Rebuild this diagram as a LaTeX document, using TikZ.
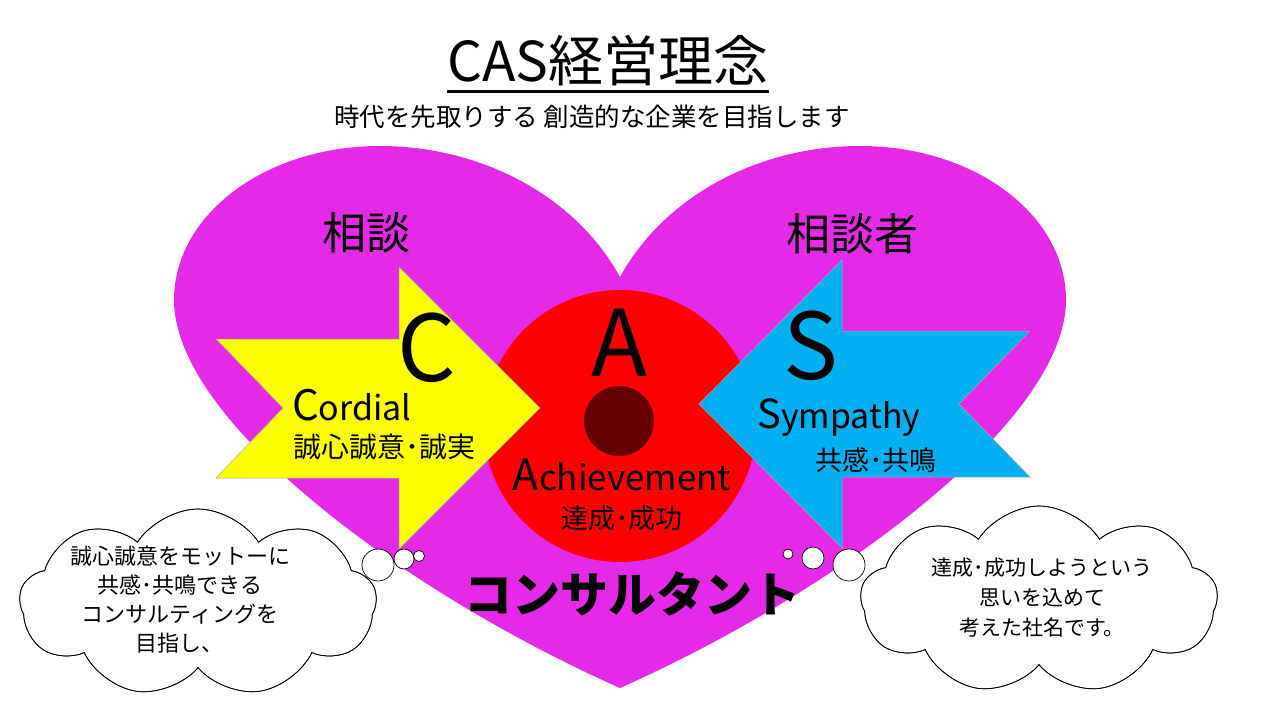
\documentclass[tikz,border=0pt]{standalone}
\usepackage{fontspec}
\setmainfont{Noto Sans CJK JP}
\usetikzlibrary{shapes.symbols}
\definecolor{heartc}{RGB}{228,42,230}
\definecolor{arrowy}{RGB}{255,255,0}
\definecolor{arrowb}{RGB}{0,176,240}
\definecolor{circr}{RGB}{255,0,0}
\definecolor{darkr}{RGB}{102,0,0}
\newcommand{\fs}[1]{\fontsize{#1}{#1}\selectfont}
\begin{document}
\begin{tikzpicture}[x=1pt,y=-1pt,
  txt/.style={inner sep=0pt, text=black},
  cloudbox/.style={cloud, cloud puffs=9, cloud puff arc=115, cloud ignores aspect, minimum width=357pt, minimum height=188pt, draw=black, line width=0.7pt},
  bubble/.style={circle, draw=black, fill=white, line width=0.7pt, inner sep=0pt},
  arrowline/.style={draw=gray!70, line width=0.5pt}
]
\useasboundingbox (0,0) rectangle (1280,720);
\fill[white] (0,0) rectangle (1280,720);

% heart
\fill[heartc] (620,688) .. controls (400,590) and (174,420) .. (174,300)
  .. controls (174,215) and (265,146) .. (380,146)
  .. controls (480,146) and (575,195) .. (620,277)
  .. controls (665,195) and (760,146) .. (860,146)
  .. controls (975,146) and (1066,215) .. (1066,300)
  .. controls (1066,420) and (840,590) .. (620,688) -- cycle;

% centre circle
\node[circle, fill=circr, minimum size=272pt, inner sep=0pt] (redc) at (620,426) {};
\node[circle, fill=darkr, minimum size=70pt, inner sep=0pt] (dot) at (619,421) {};

% arrows
\filldraw[arrowline, fill=arrowy] (216,339) -- (399,339) -- (399,267) -- (540,408)
  -- (399,549) -- (399,478) -- (216,478) -- (283,408) -- cycle;
\filldraw[arrowline, fill=arrowb] (699,404) -- (842,260) -- (842,331) -- (1030,331)
  -- (959,404) -- (1030,477) -- (842,477) -- (842,548) -- cycle;

% clouds
\node[cloudbox, fill=white] (lcloud) at (198,603) {};
\node[cloudbox, fill=white] (rcloud) at (1039,600) {};
\node[bubble, minimum size=32pt] (lb1) at (378,565) {};
\node[bubble, minimum size=20pt] (lb2) at (404,559) {};
\node[bubble, minimum size=11pt] (lb3) at (419,556) {};
\node[bubble, minimum size=10pt] (rb1) at (788,554) {};
\node[bubble, minimum size=22pt] (rb2) at (813,558) {};
\node[bubble, minimum size=32pt] (rb3) at (849,565) {};
\node[cloudbox] (lcloudo) at (198,603) {};
\node[cloudbox] (rcloudo) at (1039,600) {};

% title
\node[txt, anchor=base] (title) at (608,81) {\fs{55}CAS経営理念};
\draw[line width=3pt] ([yshift=-10pt]title.base west) -- ([yshift=-10pt]title.base east);
\node[txt, anchor=base] (sub) at (592,126) {\fs{25.5}時代を先取りする 創造的な企業を目指します};

\node[txt] (soudan) at (366,233) {\fs{44}相談};
\node[txt] (soudansha) at (852,234) {\fs{44}相談者};

% big letters
\node[txt] (bigC) at (427,348) {\fs{92}C};
\node[txt] (bigA) at (619,343) {\fs{92}A};
\node[txt] (bigS) at (811,346) {\fs{92}S};

% words
\node[txt, anchor=base west] (cordial) at (292,420) {{\fs{42}C}{\fs{34}ordial}};
\node[txt] (seijitsu) at (384,447) {\fs{28}誠心誠意･誠実};
\node[txt, anchor=base] (achieve) at (622,490) {{\fs{43}A}{\fs{35}chievement}};
\node[txt] (seikou) at (622,518) {\fs{27}達成･成功};
\node[txt, anchor=base west] (sympathy) at (757,428) {{\fs{40}S}{\fs{34}ympathy}};
\node[txt] (kyokan) at (876,460) {\fs{27}共感･共鳴};

\node[txt, font=\bfseries] (consult) at (632,594) {\fs{48}コンサルタント};

% cloud texts
\node[txt, align=center, font=\fontsize{22}{29}\selectfont] (ltext) at (180,600)
  {誠心誠意をモットーに\\共感･共鳴できる\\コンサルティングを\\目指し、};
\node[txt, align=center, font=\fontsize{21}{30}\selectfont] (rtext) at (1042,598)
  {達成･成功しようという\\思いを込めて\\考えた社名です。};
\end{tikzpicture}
\end{document}
